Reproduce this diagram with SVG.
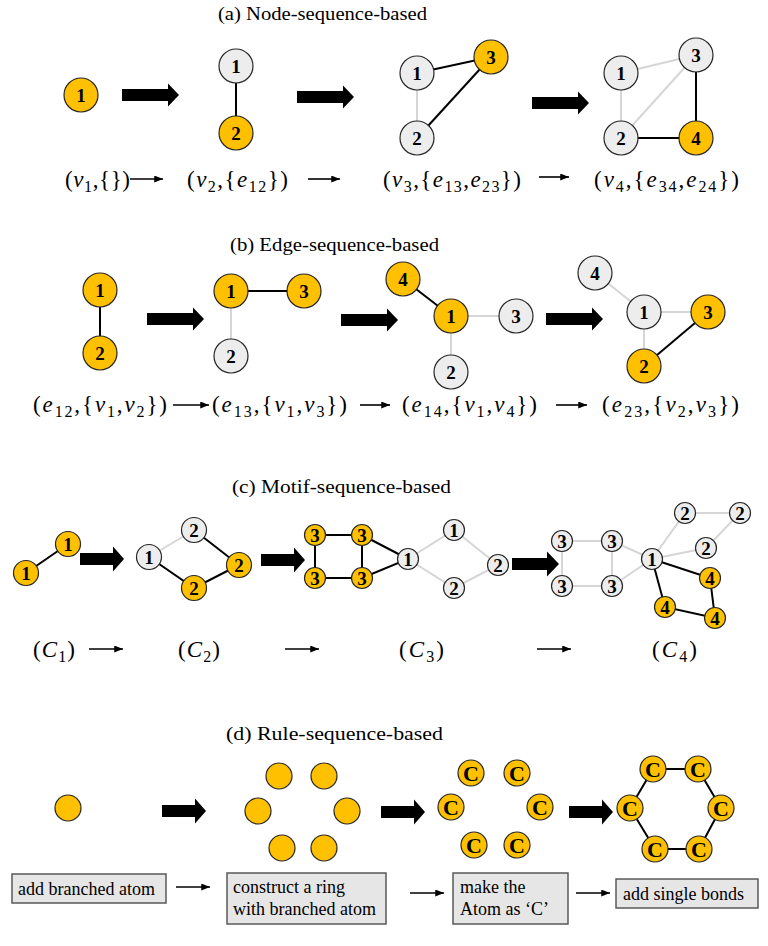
<svg xmlns="http://www.w3.org/2000/svg" width="768" height="946" viewBox="0 0 768 946">
<style>
.o{fill:#FFC000;stroke:#262626;stroke-width:1.2}
.g{fill:#EDEDED;stroke:#262626;stroke-width:1.2}
text{font-family:'Liberation Serif','Times New Roman',Times,'DejaVu Serif','Noto Serif',serif}
.d{font-weight:bold;font-size:19px;text-anchor:middle;fill:#000}
.dc{font-weight:bold;font-size:19px;text-anchor:middle;fill:#000}
.dC{font-weight:bold;font-size:22px;text-anchor:middle;fill:#000}
.eb{stroke:#000;stroke-width:2;fill:none}
.eg{stroke:#D6D6D6;stroke-width:2;fill:none}
.t{font-size:19px;fill:#000}
.m{font-size:23px;fill:#000}
.i{font-style:italic}
.s{font-size:16px}
.sa{stroke:#000;stroke-width:1.6;fill:none}
.box{fill:#E6E6E6;stroke:#595959;stroke-width:1.5}
.bt{font-size:18px;fill:#000}
</style>
<defs>
<path id="A57" d="M0,-6 H46 V-11.5 L57,0 L46,11.5 V6 H0 Z" fill="#000"/>
<path id="A44" d="M0,-6 H33 V-12.5 L44,0 L33,12.5 V6 H0 Z" fill="#000"/>
<path id="A47" d="M0,-6 H35 V-12.5 L47,0 L35,12.5 V6 H0 Z" fill="#000"/>
<marker id="ah" viewBox="0 0 10 8" refX="10" refY="4" markerWidth="9" markerHeight="7" markerUnits="userSpaceOnUse" orient="auto"><path d="M0,0 L10,4 L0,8 z" fill="#000"/></marker>
</defs>

<!-- Titles -->
<text class="t" x="218" y="20" textLength="209" lengthAdjust="spacingAndGlyphs">(a) Node-sequence-based</text>
<text class="t" x="230" y="251" textLength="209" lengthAdjust="spacingAndGlyphs">(b) Edge-sequence-based</text>
<text class="t" x="232" y="493" textLength="219" lengthAdjust="spacingAndGlyphs">(c) Motif-sequence-based</text>
<text class="t" x="226" y="740" textLength="217" lengthAdjust="spacingAndGlyphs">(d) Rule-sequence-based</text>

<!-- Connectors -->
<g id="connectors">
<line class="eb" x1="236" y1="66" x2="236" y2="133"/>
<line class="eb" x1="417" y1="73" x2="491" y2="57"/>
<line class="eb" x1="417" y1="138" x2="491" y2="57"/>
<line class="eg" x1="417" y1="73" x2="417" y2="138"/>
<line class="eg" x1="621" y1="73" x2="696" y2="55"/>
<line class="eg" x1="621" y1="138" x2="696" y2="55"/>
<line class="eg" x1="621" y1="73" x2="621" y2="138"/>
<line class="eb" x1="696" y1="55" x2="696" y2="138"/>
<line class="eb" x1="621" y1="138" x2="696" y2="138"/>
<line class="eb" x1="100" y1="290" x2="100" y2="353"/>
<line class="eb" x1="231" y1="291" x2="304" y2="291"/>
<line class="eg" x1="231" y1="291" x2="231" y2="356"/>
<line class="eb" x1="403" y1="279" x2="451" y2="316"/>
<line class="eg" x1="451" y1="316" x2="516" y2="316"/>
<line class="eg" x1="451" y1="316" x2="451" y2="372"/>
<line class="eg" x1="595" y1="273" x2="644" y2="312"/>
<line class="eg" x1="644" y1="312" x2="708" y2="312"/>
<line class="eg" x1="644" y1="312" x2="644" y2="366"/>
<line class="eb" x1="644" y1="366" x2="708" y2="312"/>
<line class="eb" x1="26" y1="573" x2="68" y2="544"/>
<line class="eg" x1="149" y1="557" x2="194" y2="530"/>
<polyline class="eb" points="194,530 239,565 194,588 149,557"/>
<polygon class="eb" points="315,535 362,535 362,578 315,578"/>
<polyline class="eb" points="362,535 408,559 362,578"/>
<polygon class="eg" points="408,559 454,530 498,565 454,588"/>
<polygon class="eg" points="562,541 612,541 612,586 562,586"/>
<polyline class="eg" points="612,541 652,559 612,586"/>
<polygon class="eg" points="652,559 685,513 740,513 706,548"/>
<polygon class="eb" points="652,559 710,578 715,618 665,607"/>
<polygon class="eb" points="653,769 698,769 721,808 699,849 655,849 630,808"/>
<use href="#A57" x="122" y="95"/>
<use href="#A57" x="297" y="97"/>
<use href="#A57" x="532" y="103"/>
<use href="#A57" x="147" y="319"/>
<use href="#A57" x="341" y="320"/>
<use href="#A57" x="546" y="319"/>
<use href="#A44" x="80" y="559"/>
<use href="#A44" x="261" y="560"/>
<use href="#A47" x="512" y="564"/>
<use href="#A44" x="162" y="811"/>
<use href="#A44" x="381" y="812"/>
<use href="#A44" x="569" y="812"/>
<line class="sa" x1="130" y1="179" x2="163" y2="179" marker-end="url(#ah)"/>
<line class="sa" x1="308" y1="179" x2="340" y2="179" marker-end="url(#ah)"/>
<line class="sa" x1="539" y1="177" x2="569" y2="177" marker-end="url(#ah)"/>
<line class="sa" x1="173" y1="405" x2="209" y2="405" marker-end="url(#ah)"/>
<line class="sa" x1="360" y1="405" x2="390" y2="405" marker-end="url(#ah)"/>
<line class="sa" x1="556" y1="405" x2="587" y2="405" marker-end="url(#ah)"/>
<line class="sa" x1="89" y1="649" x2="123" y2="649" marker-end="url(#ah)"/>
<line class="sa" x1="285" y1="649" x2="319" y2="649" marker-end="url(#ah)"/>
<line class="sa" x1="537" y1="649" x2="571" y2="649" marker-end="url(#ah)"/>
<line class="sa" x1="176" y1="887" x2="210" y2="887" marker-end="url(#ah)"/>
<line class="sa" x1="410" y1="893" x2="444" y2="893" marker-end="url(#ah)"/>
<line class="sa" x1="576" y1="893" x2="610" y2="893" marker-end="url(#ah)"/>
</g>

<!-- (a) nodes -->
<g id="a1-n1"><circle class="o" cx="81" cy="95" r="17"/><text class="d" x="81" y="102">1</text></g>
<g id="a2-n1"><circle class="g" cx="236" cy="66" r="17"/><text class="d" x="236" y="73">1</text></g>
<g id="a2-n2"><circle class="o" cx="236" cy="133" r="17"/><text class="d" x="236" y="140">2</text></g>
<g id="a3-n1"><circle class="g" cx="417" cy="73" r="17"/><text class="d" x="417" y="80">1</text></g>
<g id="a3-n3"><circle class="o" cx="491" cy="57" r="17"/><text class="d" x="491" y="64">3</text></g>
<g id="a3-n2"><circle class="g" cx="417" cy="138" r="17"/><text class="d" x="417" y="145">2</text></g>
<g id="a4-n1"><circle class="g" cx="621" cy="73" r="17"/><text class="d" x="621" y="80">1</text></g>
<g id="a4-n3"><circle class="g" cx="696" cy="55" r="17"/><text class="d" x="696" y="62">3</text></g>
<g id="a4-n2"><circle class="g" cx="621" cy="138" r="17"/><text class="d" x="621" y="145">2</text></g>
<g id="a4-n4"><circle class="o" cx="696" cy="138" r="17"/><text class="d" x="696" y="145">4</text></g>

<!-- (b) nodes -->
<g id="b1-n1"><circle class="o" cx="100" cy="290" r="17"/><text class="d" x="100" y="297">1</text></g>
<g id="b1-n2"><circle class="o" cx="100" cy="353" r="17"/><text class="d" x="100" y="360">2</text></g>
<g id="b2-n1"><circle class="o" cx="231" cy="291" r="17"/><text class="d" x="231" y="298">1</text></g>
<g id="b2-n3"><circle class="o" cx="304" cy="291" r="17"/><text class="d" x="304" y="298">3</text></g>
<g id="b2-n2"><circle class="g" cx="231" cy="356" r="17"/><text class="d" x="231" y="363">2</text></g>
<g id="b3-n4"><circle class="o" cx="403" cy="279" r="17"/><text class="d" x="403" y="286">4</text></g>
<g id="b3-n1"><circle class="o" cx="451" cy="316" r="17"/><text class="d" x="451" y="323">1</text></g>
<g id="b3-n3"><circle class="g" cx="516" cy="316" r="17"/><text class="d" x="516" y="323">3</text></g>
<g id="b3-n2"><circle class="g" cx="451" cy="372" r="17"/><text class="d" x="451" y="379">2</text></g>
<g id="b4-n4"><circle class="g" cx="595" cy="273" r="17"/><text class="d" x="595" y="280">4</text></g>
<g id="b4-n1"><circle class="g" cx="644" cy="312" r="17"/><text class="d" x="644" y="319">1</text></g>
<g id="b4-n3"><circle class="o" cx="708" cy="312" r="17"/><text class="d" x="708" y="319">3</text></g>
<g id="b4-n2"><circle class="o" cx="644" cy="366" r="17"/><text class="d" x="644" y="373">2</text></g>

<!-- (c) nodes -->
<g id="c1-n1a"><circle class="o" cx="26" cy="573" r="12.5"/><text class="dc" x="26" y="580">1</text></g>
<g id="c1-n1b"><circle class="o" cx="68" cy="544" r="12.5"/><text class="dc" x="68" y="551">1</text></g>
<g id="c2-n1"><circle class="g" cx="149" cy="557" r="12.5"/><text class="dc" x="149" y="564">1</text></g>
<g id="c2-n2a"><circle class="g" cx="194" cy="530" r="12.5"/><text class="dc" x="194" y="537">2</text></g>
<g id="c2-n2b"><circle class="o" cx="239" cy="565" r="12.5"/><text class="dc" x="239" y="572">2</text></g>
<g id="c2-n2c"><circle class="o" cx="194" cy="588" r="12.5"/><text class="dc" x="194" y="595">2</text></g>
<g id="c3-n3a"><circle class="o" cx="315" cy="535" r="10.5"/><text class="dc" x="315" y="542">3</text></g>
<g id="c3-n3b"><circle class="o" cx="362" cy="535" r="10.5"/><text class="dc" x="362" y="542">3</text></g>
<g id="c3-n3c"><circle class="o" cx="315" cy="578" r="10.5"/><text class="dc" x="315" y="585">3</text></g>
<g id="c3-n3d"><circle class="o" cx="362" cy="578" r="10.5"/><text class="dc" x="362" y="585">3</text></g>
<g id="c3-n1a"><circle class="g" cx="408" cy="559" r="10.5"/><text class="dc" x="408" y="566">1</text></g>
<g id="c3-n1b"><circle class="g" cx="454" cy="530" r="10.5"/><text class="dc" x="454" y="537">1</text></g>
<g id="c3-n2a"><circle class="g" cx="454" cy="588" r="10.5"/><text class="dc" x="454" y="595">2</text></g>
<g id="c3-n2b"><circle class="g" cx="498" cy="565" r="10.5"/><text class="dc" x="498" y="572">2</text></g>
<g id="c4-n3a"><circle class="g" cx="562" cy="541" r="10.5"/><text class="dc" x="562" y="548">3</text></g>
<g id="c4-n3b"><circle class="g" cx="612" cy="541" r="10.5"/><text class="dc" x="612" y="548">3</text></g>
<g id="c4-n3c"><circle class="g" cx="562" cy="586" r="10.5"/><text class="dc" x="562" y="593">3</text></g>
<g id="c4-n3d"><circle class="g" cx="612" cy="586" r="10.5"/><text class="dc" x="612" y="593">3</text></g>
<g id="c4-n1"><circle class="g" cx="652" cy="559" r="10.5"/><text class="dc" x="652" y="566">1</text></g>
<g id="c4-n2a"><circle class="g" cx="685" cy="513" r="10.5"/><text class="dc" x="685" y="520">2</text></g>
<g id="c4-n2b"><circle class="g" cx="740" cy="513" r="10.5"/><text class="dc" x="740" y="520">2</text></g>
<g id="c4-n2c"><circle class="g" cx="706" cy="548" r="10.5"/><text class="dc" x="706" y="555">2</text></g>
<g id="c4-n4a"><circle class="o" cx="710" cy="578" r="10.5"/><text class="dc" x="710" y="585">4</text></g>
<g id="c4-n4b"><circle class="o" cx="665" cy="607" r="10.5"/><text class="dc" x="665" y="614">4</text></g>
<g id="c4-n4c"><circle class="o" cx="715" cy="618" r="10.5"/><text class="dc" x="715" y="625">4</text></g>

<!-- (d) nodes -->
<g id="d1-n1"><circle class="o" cx="68" cy="808" r="13"/></g>
<g id="d2-n1"><circle class="o" cx="279" cy="776" r="13"/></g>
<g id="d2-n2"><circle class="o" cx="324" cy="776" r="13"/></g>
<g id="d2-n3"><circle class="o" cx="258" cy="811" r="13"/></g>
<g id="d2-n4"><circle class="o" cx="347" cy="811" r="13"/></g>
<g id="d2-n5"><circle class="o" cx="282" cy="848" r="13"/></g>
<g id="d2-n6"><circle class="o" cx="324" cy="848" r="13"/></g>
<g id="d3-n1"><circle class="o" cx="471" cy="773" r="13"/><text class="dC" x="471" y="781">C</text></g>
<g id="d3-n2"><circle class="o" cx="517" cy="773" r="13"/><text class="dC" x="517" y="781">C</text></g>
<g id="d3-n3"><circle class="o" cx="451" cy="807" r="13"/><text class="dC" x="451" y="815">C</text></g>
<g id="d3-n4"><circle class="o" cx="540" cy="807" r="13"/><text class="dC" x="540" y="815">C</text></g>
<g id="d3-n5"><circle class="o" cx="474" cy="845" r="13"/><text class="dC" x="474" y="853">C</text></g>
<g id="d3-n6"><circle class="o" cx="517" cy="845" r="13"/><text class="dC" x="517" y="853">C</text></g>
<g id="d4-n1"><circle class="o" cx="653" cy="769" r="13"/><text class="dC" x="653" y="777">C</text></g>
<g id="d4-n2"><circle class="o" cx="698" cy="769" r="13"/><text class="dC" x="698" y="777">C</text></g>
<g id="d4-n3"><circle class="o" cx="630" cy="808" r="13"/><text class="dC" x="630" y="816">C</text></g>
<g id="d4-n4"><circle class="o" cx="721" cy="808" r="13"/><text class="dC" x="721" y="816">C</text></g>
<g id="d4-n5"><circle class="o" cx="655" cy="849" r="13"/><text class="dC" x="655" y="857">C</text></g>
<g id="d4-n6"><circle class="o" cx="699" cy="849" r="13"/><text class="dC" x="699" y="857">C</text></g>

<g id="a-labels">
<text class="m" x="65" y="187" textLength="65" lengthAdjust="spacing">(<tspan class="i">v</tspan><tspan class="s" dy="5">1</tspan><tspan dy="-5">,{})</tspan></text>
<text class="m" x="187" y="187" textLength="101" lengthAdjust="spacing">(<tspan class="i">v</tspan><tspan class="s" dy="5">2</tspan><tspan dy="-5">,{</tspan><tspan class="i">e</tspan><tspan class="s" dy="5">12</tspan><tspan dy="-5">})</tspan></text>
<text class="m" x="383" y="187" textLength="138" lengthAdjust="spacing">(<tspan class="i">v</tspan><tspan class="s" dy="5">3</tspan><tspan dy="-5">,{</tspan><tspan class="i">e</tspan><tspan class="s" dy="5">13</tspan><tspan dy="-5">,</tspan><tspan class="i">e</tspan><tspan class="s" dy="5">23</tspan><tspan dy="-5">})</tspan></text>
<text class="m" x="594" y="187" textLength="145" lengthAdjust="spacing">(<tspan class="i">v</tspan><tspan class="s" dy="5">4</tspan><tspan dy="-5">,{</tspan><tspan class="i">e</tspan><tspan class="s" dy="5">34</tspan><tspan dy="-5">,</tspan><tspan class="i">e</tspan><tspan class="s" dy="5">24</tspan><tspan dy="-5">})</tspan></text>
</g>
<g id="b-labels">
<text class="m" x="33" y="412" textLength="134" lengthAdjust="spacing">(<tspan class="i">e</tspan><tspan class="s" dy="5">12</tspan><tspan dy="-5">,{</tspan><tspan class="i">v</tspan><tspan class="s" dy="5">1</tspan><tspan dy="-5">,</tspan><tspan class="i">v</tspan><tspan class="s" dy="5">2</tspan><tspan dy="-5">})</tspan></text>
<text class="m" x="212" y="412" textLength="135" lengthAdjust="spacing">(<tspan class="i">e</tspan><tspan class="s" dy="5">13</tspan><tspan dy="-5">,{</tspan><tspan class="i">v</tspan><tspan class="s" dy="5">1</tspan><tspan dy="-5">,</tspan><tspan class="i">v</tspan><tspan class="s" dy="5">3</tspan><tspan dy="-5">})</tspan></text>
<text class="m" x="402" y="412" textLength="135" lengthAdjust="spacing">(<tspan class="i">e</tspan><tspan class="s" dy="5">14</tspan><tspan dy="-5">,{</tspan><tspan class="i">v</tspan><tspan class="s" dy="5">1</tspan><tspan dy="-5">,</tspan><tspan class="i">v</tspan><tspan class="s" dy="5">4</tspan><tspan dy="-5">})</tspan></text>
<text class="m" x="602" y="412" textLength="137" lengthAdjust="spacing">(<tspan class="i">e</tspan><tspan class="s" dy="5">23</tspan><tspan dy="-5">,{</tspan><tspan class="i">v</tspan><tspan class="s" dy="5">2</tspan><tspan dy="-5">,</tspan><tspan class="i">v</tspan><tspan class="s" dy="5">3</tspan><tspan dy="-5">})</tspan></text>
</g>
<g id="c-labels">
<text class="m" x="33" y="657" textLength="42" lengthAdjust="spacing">(<tspan class="i">C</tspan><tspan class="s" dy="5">1</tspan><tspan dy="-5">)</tspan></text>
<text class="m" x="178" y="657" textLength="42" lengthAdjust="spacing">(<tspan class="i">C</tspan><tspan class="s" dy="5">2</tspan><tspan dy="-5">)</tspan></text>
<text class="m" x="399" y="657" textLength="45" lengthAdjust="spacing">(<tspan class="i">C</tspan><tspan class="s" dy="5">3</tspan><tspan dy="-5">)</tspan></text>
<text class="m" x="652" y="657" textLength="45" lengthAdjust="spacing">(<tspan class="i">C</tspan><tspan class="s" dy="5">4</tspan><tspan dy="-5">)</tspan></text>
</g>
<g id="box1"><rect class="box" x="12" y="874" width="154" height="29"/><text class="bt" x="18" y="895">add branched atom</text></g>
<g id="box2"><rect class="box" x="227" y="873" width="159" height="51"/><text class="bt" x="233" y="893">construct a ring</text><text class="bt" x="233" y="915">with branched atom</text></g>
<g id="box3"><rect class="box" x="453" y="873" width="115" height="51"/><text class="bt" x="460" y="893">make the</text><text class="bt" x="460" y="915">Atom as ‘C’</text></g>
<g id="box4"><rect class="box" x="616" y="879" width="142" height="29"/><text class="bt" x="623" y="900">add single bonds</text></g>
</svg>
